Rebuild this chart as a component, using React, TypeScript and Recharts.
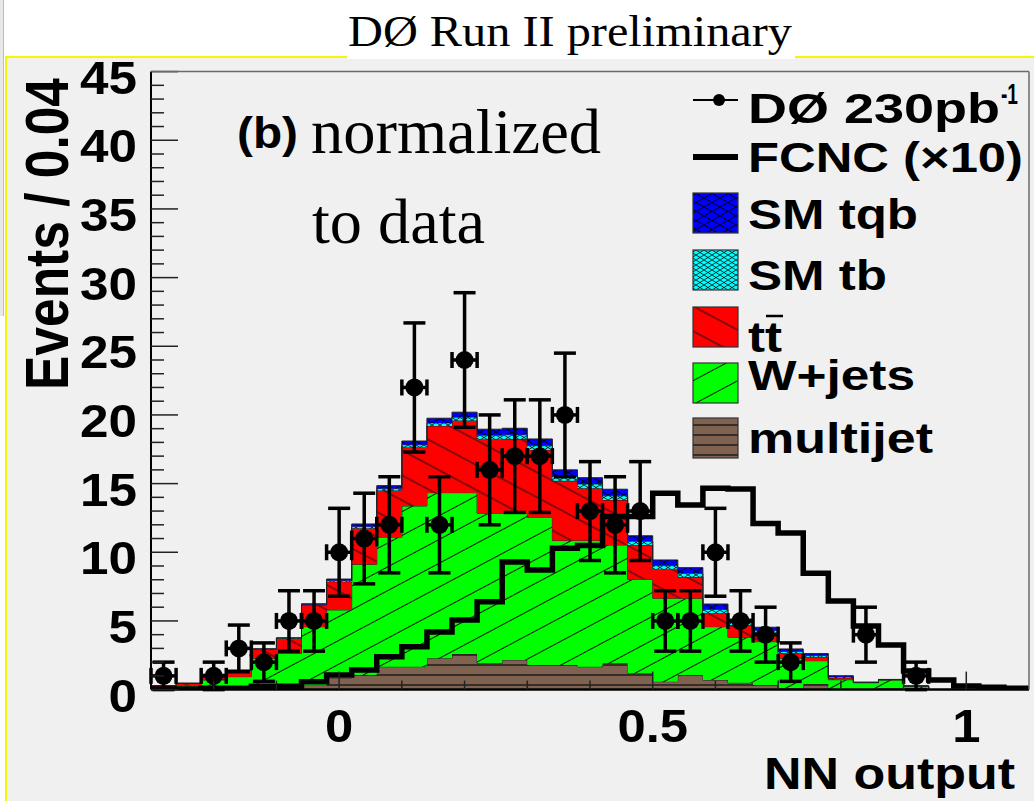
import React from "react";
import { ComposedChart, Area, Line, Scatter, XAxis, YAxis, ErrorBar } from "recharts";

// Bin edges of the NN output histogram (width 0.04), last entry is the upper edge
const binEdges = [
  -0.3, -0.26, -0.22, -0.18, -0.14, -0.1, -0.06, -0.02, 0.02, 0.06, 0.1, 0.14,
  0.18, 0.22, 0.26, 0.3, 0.34, 0.38, 0.42, 0.46, 0.5, 0.54, 0.58, 0.62, 0.66,
  0.7, 0.74, 0.78, 0.82, 0.86, 0.9, 0.94, 0.98, 1.02, 1.06, 1.1,
];
const binHalfWidth = 0.02;

// Stacked backgrounds (bottom to top)
const multijet = [
  0, 0, 0, 0, 0.05, 0.1, 0.3, 0.85, 1.06, 1.67, 1.67, 2.28, 2.59, 1.91, 2.16,
  1.79, 1.79, 1.67, 1.91, 1.19, 0.58, 1.06, 0.7, 0.5, 0.34, 0.1, 0.41, 0.05,
  0.03, 0.1, 0, 0, 0, 0, 0,
];
const wjets = [
  0.1, 0.28, 0.7, 0.94, 2.23, 2.54, 4.28, 4.95, 8.06, 9.43, 11.7, 12.06, 11.75,
  10.93, 10.68, 10.76, 9.06, 9.18, 8.62, 6.84, 6.07, 5.59, 3.88, 3.31, 3.15,
  2.18, 1.69, 0.67, 0.47, 0.6, 0.26, 0, 0, 0, 0,
];
const ttbar = [
  0.18, 0.18, 0.4, 0.46, 0.65, 1.09, 1.58, 2.06, 2.63, 3.4, 4.28, 4.86, 5.26,
  5.39, 5.41, 4.9, 4.35, 3.81, 3.27, 2.5, 2.11, 1.55, 0.98, 0.89, 0.66, 0.36,
  0.28, 0.13, 0.02, 0.02, 0, 0, 0, 0, 0,
];
const smTb = [
  0, 0, 0.01, 0.01, 0.02, 0.02, 0.04, 0.08, 0.12, 0.14, 0.18, 0.22, 0.24, 0.29,
  0.31, 0.32, 0.32, 0.31, 0.32, 0.27, 0.27, 0.27, 0.27, 0.18, 0.16, 0.13, 0.1,
  0.06, 0.01, 0.01, 0, 0, 0, 0, 0,
];
const smTqb = [
  0, 0, 0.01, 0.01, 0.02, 0.02, 0.05, 0.11, 0.19, 0.21, 0.27, 0.34, 0.36, 0.44,
  0.47, 0.48, 0.48, 0.46, 0.47, 0.4, 0.41, 0.41, 0.4, 0.26, 0.23, 0.19, 0.14,
  0.1, 0.01, 0.01, 0, 0, 0, 0, 0,
];
// FCNC signal (x10), drawn as a line
const fcnc = [
  0.05, 0.05, 0.1, 0.1, 0.25, 0.25, 0.58, 1.06, 1.43, 2.4, 3.12, 4.2, 5.07, 6.4,
  9.3, 8.7, 10.3, 10.5, 12.6, 12.6, 14.3, 13.45, 14.66, 14.6, 12.1, 11.4, 8.47,
  6.45, 4.63, 3.25, 1.35, 0.7, 0.26, 0.17, 0.1,
];
// Data
const dataCounts = [
  1, 0, 1, 3, 2, 5, 5, 10, 11, 12, 22, 12, 24, 16, 17, 17, 20, 13, 12, 13, 5, 5,
  10, 5, 4, 2, 0, 0, 4, 0, 1, 0, 0, 0, 0,
];
const dataErrors = [
  1, 0, 1, 1.7, 1.4, 2.2, 2.2, 3.2, 3.3, 3.5, 4.7, 3.5, 4.9, 4, 4.1, 4.1, 4.5,
  3.6, 3.5, 3.6, 2.2, 2.2, 3.2, 2.2, 2, 1.4, 0, 0, 2, 0, 1, 0, 0, 0, 0,
];

const xTicks = [-0.2, -0.1, 0, 0.1, 0.2, 0.3, 0.4, 0.5, 0.6, 0.7, 0.8, 0.9, 1.0];
const xTickLabels = [0, 0.5, 1];
const yTickLabels = [0, 5, 10, 15, 20, 25, 30, 35, 40, 45];
const yTicks = Array.from({ length: 46 }, (_, i) => i);

const histData = binEdges.map((x, i) => {
  const j = Math.min(i, multijet.length - 1);
  return {
    x,
    mj: multijet[j],
    wj: wjets[j],
    tt: ttbar[j],
    tb: smTb[j],
    tqb: smTqb[j],
    fcnc: fcnc[j],
  };
});

const pointData = dataCounts
  .map((c, i) => ({ x: binEdges[i] + binHalfWidth, y: c, ex: binHalfWidth, ey: dataErrors[i] }))
  .filter((p) => p.y > 0);

const SANS = "'Liberation Sans', Arial, Helvetica, sans-serif";
const SERIF = "'Liberation Serif', 'Times New Roman', serif";

const C_GREEN = "#00ff00";
const C_RED = "#ff0000";
const C_BLUE = "#0000ff";
const C_CYAN = "#00ffff";
const C_BROWN = "#7f6350";

function XTick(props: any) {
  const { x, y, payload } = props;
  const v = payload.value;
  const label = xTickLabels.find((t) => Math.abs(t - v) < 1e-6);
  const major = label !== undefined;
  return (
    <g>
      <line x1={x} x2={x} y1={y} y2={y - (major ? 18 : 9)} stroke="#222" strokeWidth={1.5} />
      {major && (
        <text
          transform={`translate(${x},${y + 52}) scale(1.08,1)`}
          textAnchor="middle"
          fontFamily={SANS}
          fontWeight="bold"
          fontSize={47}
          fill="#000"
        >
          {String(label)}
        </text>
      )}
    </g>
  );
}

function YTick(props: any) {
  const { x, y, payload } = props;
  const v = payload.value;
  const major = yTickLabels.includes(v);
  return (
    <g>
      <line x1={x} x2={x + (major ? 27 : 13)} y1={y} y2={y} stroke="#222" strokeWidth={1.5} />
      {major && (
        <text
          transform={`translate(${x - 14},${y + 22}) scale(1.09,1)`}
          textAnchor="end"
          fontFamily={SANS}
          fontWeight="bold"
          fontSize={47}
          fill="#000"
        >
          {String(v)}
        </text>
      )}
    </g>
  );
}

function Patterns() {
  return (
    <svg width="0" height="0" style={{ position: "absolute", left: 0, top: 0 }}>
      <defs>
        <pattern id="patW" patternUnits="userSpaceOnUse" width="20" height="21" patternTransform="rotate(-28)">
          <rect width="20" height="21" fill={C_GREEN} />
          <line x1="0" y1="10.5" x2="20" y2="10.5" stroke="#111" strokeWidth="1" />
        </pattern>
        <pattern id="patT" patternUnits="userSpaceOnUse" width="20" height="22" patternTransform="rotate(28)">
          <rect width="20" height="22" fill={C_RED} />
          <line x1="0" y1="11" x2="20" y2="11" stroke="#111" strokeWidth="1" />
        </pattern>
        <pattern id="patM" patternUnits="userSpaceOnUse" width="10" height="10">
          <rect width="10" height="10" fill={C_BROWN} />
          <line x1="0" y1="5" x2="10" y2="5" stroke="#1a1a1a" strokeWidth="1.5" />
        </pattern>
        <pattern id="patQ" patternUnits="userSpaceOnUse" width="16" height="9">
          <rect width="16" height="9" fill={C_BLUE} />
          <line x1="0" y1="0" x2="16" y2="9" stroke="#000" strokeWidth="1" />
          <line x1="0" y1="9" x2="16" y2="0" stroke="#000" strokeWidth="1" />
        </pattern>
        <pattern id="patB" patternUnits="userSpaceOnUse" width="8" height="5">
          <rect width="8" height="5" fill={C_CYAN} />
          <line x1="0" y1="0" x2="8" y2="5" stroke="#000" strokeWidth="0.8" />
          <line x1="0" y1="5" x2="8" y2="0" stroke="#000" strokeWidth="0.8" />
        </pattern>
      </defs>
    </svg>
  );
}

function Overlay() {
  const lx = 693;
  const lw = 45;
  const tx = 748;
  const boxes = [
    { id: "patQ", y: 193, text: "SM tqb", base: 229, len: 170 },
    { id: "patB", y: 250, text: "SM tb", base: 290, len: 139 },
    { id: "patT", y: 307, text: "tt", base: 352, len: 34 },
    { id: "patW", y: 363, text: "W+jets", base: 390, len: 167 },
    { id: "patM", y: 418, text: "multijet", base: 453, len: 185 },
  ];
  return (
    <svg
      width={1034}
      height={801}
      style={{ position: "absolute", left: 0, top: 0, pointerEvents: "none" }}
    >
      {/* title box */}
      <rect x={347} y={0} width={448} height={59} fill="#ffffff" />
      <text x={348} y={46} fontFamily={SERIF} fontSize={45} textLength={444} lengthAdjust="spacingAndGlyphs" fill="#000">
        DØ Run II preliminary
      </text>
      {/* frame top / right */}
      <line x1={151} x2={1029} y1={71.6} y2={71.6} stroke="#6a6a6a" strokeWidth={1.5} />
      <line x1={1029} x2={1029} y1={71.6} y2={689.6} stroke="#6a6a6a" strokeWidth={1.5} />
      {/* annotations */}
      <text x={237} y={148} fontFamily={SANS} fontWeight="bold" fontSize={45} textLength={61} lengthAdjust="spacingAndGlyphs" fill="#000">
        (b)
      </text>
      <text x={311} y={153} fontFamily={SERIF} fontSize={63} textLength={290} lengthAdjust="spacingAndGlyphs" fill="#000">
        normalized
      </text>
      <text x={312} y={243} fontFamily={SERIF} fontSize={63} textLength={173} lengthAdjust="spacingAndGlyphs" fill="#000">
        to data
      </text>
      {/* axis titles */}
      <text
        transform="translate(68,234) scale(1.2,1) rotate(-90)"
        textAnchor="middle"
        fontFamily={SANS}
        fontWeight="bold"
        fontSize={51}
        textLength={312}
        lengthAdjust="spacingAndGlyphs"
        fill="#000"
      >
        Events / 0.04
      </text>
      <text
        x={1015}
        y={789}
        textAnchor="end"
        fontFamily={SANS}
        fontWeight="bold"
        fontSize={44}
        textLength={251}
        lengthAdjust="spacingAndGlyphs"
        fill="#000"
      >
        NN output
      </text>
      {/* legend */}
      <line x1={lx} x2={lx + lw} y1={100} y2={100} stroke="#000" strokeWidth={2} />
      <circle cx={lx + 26} cy={100} r={6} fill="#000" />
      <text x={tx} y={123} fontFamily={SANS} fontWeight="bold" fontSize={43} textLength={252} lengthAdjust="spacingAndGlyphs" fill="#000">
        DØ 230pb
      </text>
      <text x={1001} y={104} fontFamily={SANS} fontWeight="bold" fontSize={29} textLength={17} lengthAdjust="spacingAndGlyphs" fill="#000">
        -1
      </text>
      <line x1={lx} x2={lx + lw} y1={157} y2={157} stroke="#000" strokeWidth={6} />
      <text x={tx} y={172} fontFamily={SANS} fontWeight="bold" fontSize={43} textLength={275} lengthAdjust="spacingAndGlyphs" fill="#000">
        FCNC (×10)
      </text>
      {boxes.map((b) => (
        <g key={b.id}>
          <rect x={lx} y={b.y} width={lw} height={40} fill={`url(#${b.id})`} stroke="#333" strokeWidth={1.2} />
          <text x={tx} y={b.base} fontFamily={SANS} fontWeight="bold" fontSize={43} textLength={b.len} lengthAdjust="spacingAndGlyphs" fill="#000">
            {b.text}
          </text>
        </g>
      ))}
      <line x1={766} x2={783} y1={316} y2={316} stroke="#000" strokeWidth={2.5} />
    </svg>
  );
}

export default function App() {
  return (
    <div
      style={{
        position: "absolute",
        left: 0,
        top: 0,
        width: 1034,
        height: 801,
        overflow: "hidden",
        background: "#ffffff",
      }}
    >
      <Patterns />
      <div
        style={{
          position: "absolute",
          left: 0,
          top: 0,
          width: 3,
          height: 316,
          background: "#e8e8e8",
          borderRight: "1px solid #bdbdbd",
        }}
      />
      <div
        style={{
          position: "absolute",
          left: 5,
          top: 56,
          width: 1029,
          height: 745,
          background: "#f0f0f0",
          borderTop: "2px solid #f6f600",
          borderLeft: "2px solid #f6f600",
          boxSizing: "border-box",
        }}
      />
      <div style={{ position: "absolute", left: 0, top: 0 }}>
        <ComposedChart
          width={1034}
          height={801}
          data={histData}
          margin={{ top: 71.6, right: 5, left: 0, bottom: 71.4 }}
        >
          <XAxis
            type="number"
            dataKey="x"
            domain={[-0.3, 1.1]}
            allowDataOverflow
            ticks={xTicks}
            interval={0}
            tickLine={false}
            tickSize={0}
            tickMargin={0}
            height={40}
            axisLine={{ stroke: "#000", strokeWidth: 2.5 }}
            tick={(p: any) => <XTick {...p} />}
          />
          <YAxis
            type="number"
            domain={[0, 45]}
            allowDataOverflow
            ticks={yTicks}
            interval={0}
            tickLine={false}
            tickSize={0}
            tickMargin={0}
            width={151}
            axisLine={{ stroke: "#000", strokeWidth: 2 }}
            tick={(p: any) => <YTick {...p} />}
          />
          <Area type="stepAfter" dataKey="mj" stackId="bg" stroke="#222" strokeWidth={1} fill="url(#patM)" fillOpacity={1} dot={false} activeDot={false} isAnimationActive={false} />
          <Area type="stepAfter" dataKey="wj" stackId="bg" stroke="#222" strokeWidth={1} fill="url(#patW)" fillOpacity={1} dot={false} activeDot={false} isAnimationActive={false} />
          <Area type="stepAfter" dataKey="tt" stackId="bg" stroke="#222" strokeWidth={1} fill="url(#patT)" fillOpacity={1} dot={false} activeDot={false} isAnimationActive={false} />
          <Area type="stepAfter" dataKey="tb" stackId="bg" stroke="#222" strokeWidth={0.8} fill="url(#patB)" fillOpacity={1} dot={false} activeDot={false} isAnimationActive={false} />
          <Area type="stepAfter" dataKey="tqb" stackId="bg" stroke="#222" strokeWidth={1} fill="url(#patQ)" fillOpacity={1} dot={false} activeDot={false} isAnimationActive={false} />
          <Line type="stepAfter" dataKey="fcnc" stroke="#000" strokeWidth={5.5} strokeLinejoin="miter" dot={false} activeDot={false} isAnimationActive={false} />
          <Scatter
            data={pointData}
            dataKey="y"
            fill="#000"
            isAnimationActive={false}
            shape={(p: any) => <circle cx={p.cx} cy={p.cy} r={9} fill="#000" />}
          >
            <ErrorBar dataKey="ey" direction="y" width={11} stroke="#000" strokeWidth={3.5} />
            <ErrorBar dataKey="ex" direction="x" width={8} stroke="#000" strokeWidth={3.5} />
          </Scatter>
        </ComposedChart>
      </div>
      <Overlay />
    </div>
  );
}
